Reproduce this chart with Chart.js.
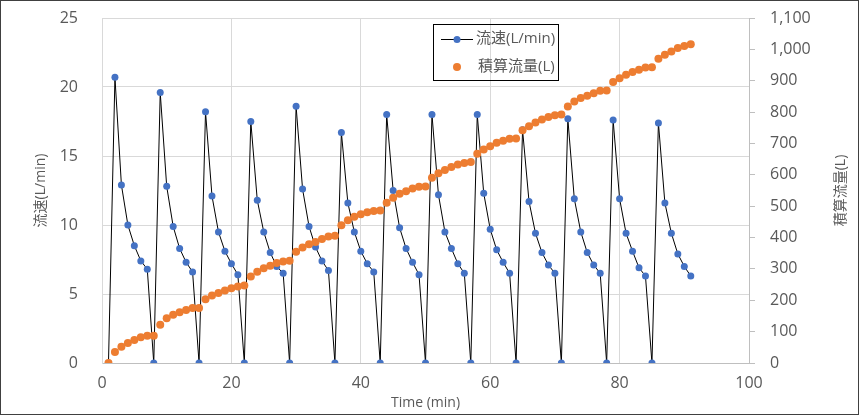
<!DOCTYPE html>
<html>
<head>
<meta charset="utf-8">
<script src="https://cdn.jsdelivr.net/npm/chart.js@4/dist/chart.umd.min.js"></script>
<style>
	html, body { margin: 0; padding: 0; background: #fff; }
	#wrap { position: relative; width: 859px; height: 415px; }
	#frame { position: absolute; left: 0; top: 0; width: 859px; height: 415px; box-sizing: border-box; border: 1px solid #404040; pointer-events: none; }
</style>
</head>
<body>
<div id="wrap">
	<canvas id="graphicFlow" width="859" height="415"></canvas>
	<div id="frame"></div>
</div>
<script>
// time in minutes
const minutes = [1, 2, 3, 4, 5, 6, 7, 8, 9, 10, 11, 12, 13, 14, 15, 16, 17, 18, 19, 20,
	21, 22, 23, 24, 25, 26, 27, 28, 29, 30, 31, 32, 33, 34, 35, 36, 37, 38, 39, 40,
	41, 42, 43, 44, 45, 46, 47, 48, 49, 50, 51, 52, 53, 54, 55, 56, 57, 58, 59, 60,
	61, 62, 63, 64, 65, 66, 67, 68, 69, 70, 71, 72, 73, 74, 75, 76, 77, 78, 79, 80,
	81, 82, 83, 84, 85, 86, 87, 88, 89, 90, 91];

// 流速 (L/min)
const flowRate = [0,
	20.7, 12.9, 10.0, 8.5, 7.4, 6.8, 0,
	19.6, 12.8, 9.9, 8.3, 7.3, 6.6, 0,
	18.2, 12.1, 9.5, 8.1, 7.2, 6.4, 0,
	17.5, 11.8, 9.5, 8.0, 7.0, 6.5, 0,
	18.6, 12.6, 9.9, 8.4, 7.4, 6.7, 0,
	16.7, 11.6, 9.5, 8.1, 7.2, 6.6, 0,
	18.0, 12.5, 9.8, 8.3, 7.3, 6.4, 0,
	18.0, 12.2, 9.5, 8.3, 7.2, 6.5, 0,
	18.0, 12.3, 9.7, 8.2, 7.3, 6.5, 0,
	16.9, 11.7, 9.4, 8.0, 7.1, 6.5, 0,
	17.7, 11.9, 9.5, 8.0, 7.1, 6.5, 0,
	17.6, 11.9, 9.4, 8.1, 6.9, 6.3, 0,
	17.4, 11.6, 9.4, 7.9, 7.0, 6.3];

// 積算流量 (L)
const totalFlow = [0,
	35, 52, 64, 73, 82, 87, 87,
	122, 143, 154, 162, 169, 175, 175,
	203, 215, 223, 231, 238, 244, 247,
	276, 291, 302, 310, 319, 324, 326,
	355, 368, 379, 386, 395, 403, 406,
	439, 455, 466, 474, 481, 485, 486,
	511, 527, 540, 548, 556, 562, 563,
	591, 605, 615, 625, 633, 638, 641,
	667, 681, 691, 702, 709, 715, 716,
	742, 755, 767, 776, 784, 790, 792,
	818, 834, 845, 852, 860, 868, 869,
	896, 908, 919, 928, 935, 942, 943,
	970, 983, 993, 1004, 1011, 1016];

const timeTicks = [0, 20, 40, 60, 80, 100];
const flowTicks = [0, 5, 10, 15, 20, 25];
const totalTicks = [0, 100, 200, 300, 400, 500, 600, 700, 800, 900, 1000, 1100];

const labelFlow = '流速(L/min)';
const labelTotal = '積算流量(L)';
const labelTime = 'Time (min)';

const FONT = '"Open Sans", "Noto Sans CJK JP", sans-serif';
const TEXT = '#595959';
const BLUE = '#4472C4';
const ORANGE = '#ED7D31';

function toPoints(xs, ys) {
	return xs.map(function(x, i) { return { x: x, y: ys[i] }; });
}

function fixedTicks(values) {
	return function(scale) {
		scale.ticks = values.map(function(v) { return { value: v }; });
	};
}

// fixed axis width, and no extra top/bottom padding from the labels
function fitSide(width) {
	return function(s) {
		s.width = width;
		s.paddingTop = 0;
		s.paddingBottom = 0;
	};
}

// legend box inside the plot and the right title (read bottom to top)
const extras = {
	id: 'extras',
	afterDraw: function(chart) {
		const ctx = chart.ctx;
		ctx.save();

		ctx.strokeStyle = '#000';
		ctx.lineWidth = 1;
		ctx.strokeRect(433.5, 24.5, 125, 56);

		ctx.beginPath();
		ctx.moveTo(441, 39.5);
		ctx.lineTo(473, 39.5);
		ctx.stroke();
		ctx.fillStyle = BLUE;
		ctx.beginPath();
		ctx.arc(457, 39.5, 3.5, 0, Math.PI * 2);
		ctx.fill();
		ctx.fillStyle = ORANGE;
		ctx.beginPath();
		ctx.arc(457, 67, 4, 0, Math.PI * 2);
		ctx.fill();

		ctx.fillStyle = TEXT;
		ctx.font = '15px ' + FONT;
		ctx.textBaseline = 'middle';
		ctx.textAlign = 'left';
		ctx.fillText(labelFlow, 476, 39);
		ctx.fillText(labelTotal, 478, 67);

		ctx.translate(841, 190.5);
		ctx.rotate(-Math.PI / 2);
		ctx.textAlign = 'center';
		ctx.font = '14px ' + FONT;
		ctx.fillText(labelTotal, 0, 0);
		ctx.restore();
	}
};

const chart = new Chart(document.getElementById('graphicFlow').getContext('2d'), {
	data: {
		datasets: [{
			type: 'line',
			label: labelFlow,
			data: toPoints(minutes, flowRate),
			yAxisID: 'y',
			order: 2,
			borderColor: '#000',
			borderWidth: 1,
			tension: 0,
			pointRadius: 3.5,
			pointBorderWidth: 0,
			pointBackgroundColor: BLUE,
			pointBorderColor: BLUE
		}, {
			type: 'scatter',
			label: labelTotal,
			data: toPoints(minutes, totalFlow),
			yAxisID: 'y2',
			order: 1,
			pointRadius: 4,
			pointBorderWidth: 0,
			pointBackgroundColor: ORANGE,
			pointBorderColor: ORANGE
		}]
	},
	options: {
		responsive: false,
		animation: false,
		layout: { padding: { top: 18, left: 0, right: 0, bottom: 0 } },
		plugins: {
			legend: { display: false },
			tooltip: { enabled: false }
		},
		scales: {
			x: {
				type: 'linear',
				min: 0,
				max: 100,
				afterBuildTicks: fixedTicks(timeTicks),
				afterFit: function(s) { s.height = 52; },
				grid: { color: '#d9d9d9', drawTicks: false },
				border: { color: '#bfbfbf' },
				ticks: { color: TEXT, padding: 11, font: { family: FONT, size: 16 } },
				title: {
					display: true, text: labelTime, color: TEXT,
					font: { family: FONT, size: 14 }, padding: { top: 4, bottom: 4 }
				}
			},
			y: {
				position: 'left',
				min: 0,
				max: 25,
				afterBuildTicks: fixedTicks(flowTicks),
				afterFit: fitSide(102),
				grid: { color: '#d9d9d9', drawTicks: false },
				border: { color: '#d9d9d9' },
				ticks: { color: TEXT, padding: 24, font: { family: FONT, size: 16 } },
				title: {
					display: true, text: labelFlow, color: TEXT,
					font: { family: FONT, size: 14 }, padding: { top: 33, bottom: 0 }
				}
			},
			y2: {
				position: 'right',
				min: 0,
				max: 1100,
				afterBuildTicks: fixedTicks(totalTicks),
				afterFit: fitSide(110),
				grid: { drawOnChartArea: false, color: '#bfbfbf', tickLength: 6 },
				border: { color: '#bfbfbf' },
				ticks: { color: TEXT, padding: 15, font: { family: FONT, size: 16 } }
			}
		}
	},
	plugins: [extras]
});
</script>
</body>
</html>
